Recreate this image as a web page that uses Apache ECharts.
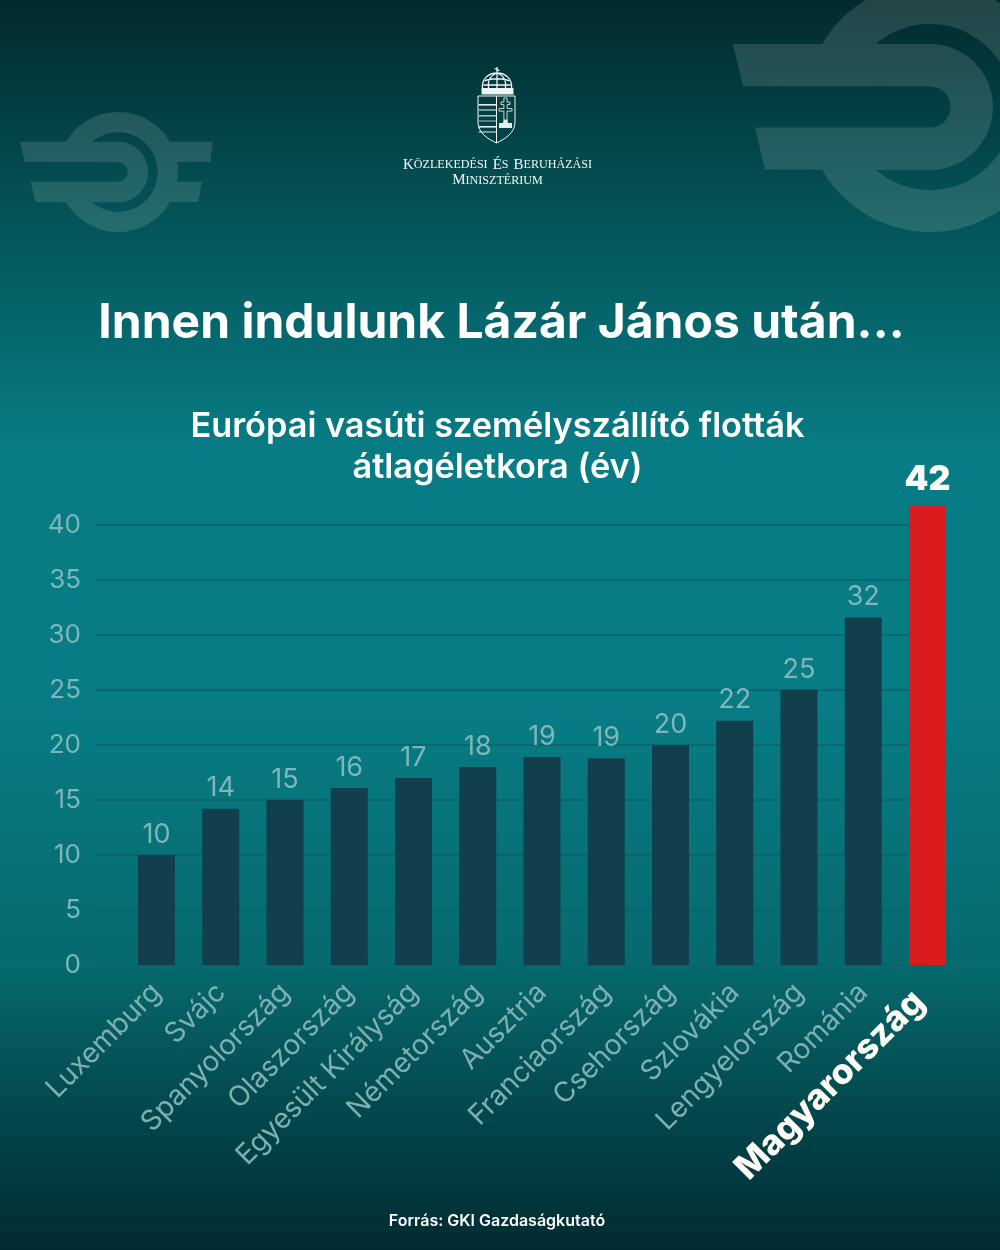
<!DOCTYPE html>
<html><head><meta charset="utf-8">
<style>html,body{margin:0;padding:0;background:#022a2d}#c{width:1000px;height:1250px}</style>
<script src="https://cdn.jsdelivr.net/npm/echarts@6/dist/echarts.min.js"></script>
</head><body><div id="c"></div>
<script>
const categories = ['Luxemburg','Svájc','Spanyolország','Olaszország','Egyesült Királyság','Németország','Ausztria','Franciaország','Csehország','Szlovákia','Lengyelország','Románia','Magyarország'];
const values = [10,14.2,15,16.1,17,18,18.9,18.8,20,22.2,25,31.6,41.8];
const highlight = 'Magyarország';
const mainTitle = 'Innen indulunk Lázár János után...';
const subTitle = 'Európai vasúti személyszállító flották\nátlagéletkora (év)';
const source = 'Forrás: GKI Gazdaságkutató';

const FONT = 'Inter, "Noto Sans", sans-serif';
const MUTED = '#7db7ba';
const MUTEDX = '#7fb0b1';

// Decorative railway emblem (drawn around 0,0, big-logo units)
echarts.graphic.registerShape('railLogo', echarts.graphic.extendShape({
  shape:{wing:0},
  buildPath(ctx,s){
    const R=125,r=83,a=63,b=20.5,yT=-63,yB=62.5,y1=-21,y2=20.5,w=s.wing||0;
    const xo=Math.sqrt(R*R-y1*y1), xi=Math.sqrt(r*r-y1*y1);
    // open ring
    ctx.moveTo(-xo,y1);
    ctx.arc(0,0,R,Math.PI+Math.asin(-y1/R),Math.PI-Math.asin(y2/R),false);
    ctx.lineTo(-xi,y2);
    ctx.arc(0,0,r,Math.PI-Math.asin(y2/r),Math.PI+Math.asin(-y1/r),true);
    ctx.closePath();
    // D with left wings
    ctx.moveTo(-197+w,yT);
    ctx.lineTo(0,yT);
    ctx.arc(0,0,a,-Math.PI/2,Math.PI/2,false);
    ctx.lineTo(-165+w,yB);
    ctx.lineTo(-175+w,y2);
    ctx.lineTo(0,y2);
    ctx.arc(0,0,b,Math.PI/2,-Math.PI/2,true);
    ctx.lineTo(-187+w,y1);
    ctx.closePath();
    // right wings
    ctx.moveTo(110,yT); ctx.lineTo(198,yT); ctx.lineTo(192,y1); ctx.lineTo(110,y1); ctx.closePath();
    ctx.moveTo(110,y2); ctx.lineTo(175,y2); ctx.lineTo(167,yB); ctx.lineTo(100,yB); ctx.closePath();
  }
}));
// Coat of arms: shield outline, crown lattice, double cross
echarts.graphic.registerShape('crestShield', echarts.graphic.extendShape({
  shape:{},
  buildPath(ctx){
    ctx.moveTo(0,0);ctx.lineTo(37,0);ctx.lineTo(37,26);
    ctx.bezierCurveTo(37,37,27,43,18.5,47);
    ctx.bezierCurveTo(10,43,0,37,0,26);ctx.closePath();
    ctx.moveTo(18.5,0);ctx.lineTo(18.5,47);
  }
}));
echarts.graphic.registerShape('crestCrown', echarts.graphic.extendShape({
  shape:{},
  buildPath(ctx){
    // dome and bands
    ctx.moveTo(2,21);ctx.bezierCurveTo(1,12,8,6,16.5,6);ctx.bezierCurveTo(25,6,32,12,31,21);
    ctx.moveTo(16.5,6);ctx.lineTo(16.5,21);
    ctx.moveTo(8,21);ctx.bezierCurveTo(7,13,11,8,16.5,6);
    ctx.moveTo(25,21);ctx.bezierCurveTo(26,13,22,8,16.5,6);
    ctx.moveTo(4,14);ctx.bezierCurveTo(10,11,23,11,29,14);
    ctx.moveTo(3,18);ctx.lineTo(30,18);
    // cross on top
    ctx.moveTo(16.5,6);ctx.lineTo(16.5,0);
    ctx.moveTo(14,1.5);ctx.lineTo(19,3.5);
  }
}));
echarts.graphic.registerShape('crestCross', echarts.graphic.extendShape({
  shape:{},
  buildPath(ctx){
    ctx.moveTo(-1.6,0);ctx.lineTo(1.6,0);ctx.lineTo(1.6,4);ctx.lineTo(4.5,4);ctx.lineTo(4.5,6.6);ctx.lineTo(1.6,6.6);
    ctx.lineTo(1.6,10.5);ctx.lineTo(6.5,10.5);ctx.lineTo(6.5,13.1);ctx.lineTo(1.6,13.1);ctx.lineTo(1.6,22);
    ctx.lineTo(-1.6,22);ctx.lineTo(-1.6,13.1);ctx.lineTo(-6.5,13.1);ctx.lineTo(-6.5,10.5);ctx.lineTo(-1.6,10.5);
    ctx.lineTo(-1.6,6.6);ctx.lineTo(-4.5,6.6);ctx.lineTo(-4.5,4);ctx.lineTo(-1.6,4);ctx.closePath();
  }
}));

const chart = echarts.init(document.getElementById('c'), null, {renderer:'canvas', width:1000, height:1250});

const stripeYs = [8,13.5,19,24.5,30,35.5];
const crestGraphics = [
  {type:'crestShield',x:478,y:96,shape:{},style:{fill:'transparent',stroke:'#f2f7f6',lineWidth:1},silent:true},
  {type:'crestCrown',x:480.5,y:67,shape:{},style:{fill:'transparent',stroke:'#eef4f3',lineWidth:1.3},silent:true},
  {type:'rect',shape:{x:481.5,y:88,width:32,height:6.5},style:{fill:'#eef4f3'},silent:true},
  {type:'crestCross',x:505.5,y:98,shape:{},style:{fill:'transparent',stroke:'#f2f7f6',lineWidth:0.8},silent:true},
  {type:'polygon',shape:{points:[[499,128],[499,123],[503,123],[503.5,120],[507.5,120],[508,123],[512,123],[512,128]]},style:{fill:'#e8f0ef'},silent:true}
].concat(stripeYs.map((s,i)=>({type:'rect',shape:{x:478.5,y:96+s,width:18,height:i%2===0?1.6:1},style:{fill:i===2||i===3?'#9fc4c2':'#e8f0ef'},silent:true})));

const serifRich = {a:{fontFamily:'"Liberation Serif"',fontSize:15,fontWeight:'normal',color:'#f4f8f7'},b:{fontFamily:'"Liberation Serif"',fontSize:12.1,fontWeight:'normal',color:'#f4f8f7'}};

chart.setOption({
  animation:false,
  backgroundColor:new echarts.graphic.LinearGradient(0,0,0,1,[
    {offset:0,color:'#022a2d'},{offset:0.2,color:'#045a5e'},{offset:0.36,color:'#087c85'},
    {offset:0.56,color:'#087c85'},{offset:0.77,color:'#066a6e'},{offset:0.88,color:'#034a4f'},{offset:1,color:'#012b31'}]),
  graphic:{elements:[
    {type:'railLogo',x:930,y:107,z:-10,shape:{wing:0},style:{fill:'rgba(255,255,255,0.13)'},silent:true},
    {type:'railLogo',x:118,y:172,scaleX:0.48,scaleY:0.48,z:-10,shape:{wing:-7},style:{fill:'rgba(255,255,255,0.13)'},silent:true}
  ].concat(crestGraphics)},
  title:[
    {text:'{a|K}{b|ÖZLEKEDÉSI} {a|É}{b|S} {a|B}{b|ERUHÁZÁSI}',left:492.5,top:151,textAlign:'center',textStyle:{fontWeight:'normal',rich:serifRich}},
    {text:'{a|M}{b|INISZTÉRIUM}',left:492.5,top:168,textAlign:'center',textStyle:{fontWeight:'normal',rich:serifRich}},
    {text:mainTitle,left:496.5,top:295,textAlign:'center',textStyle:{fontFamily:FONT,fontSize:48,fontWeight:700,color:'#ffffff'}},
    {text:subTitle,left:492.5,top:401,textAlign:'center',textStyle:{fontFamily:FONT,fontSize:34.3,fontWeight:600,color:'#ffffff',lineHeight:41}},
    {text:source,left:492,top:1208,textAlign:'center',textStyle:{fontFamily:FONT,fontSize:16,fontWeight:600,color:'#ffffff'}}
  ],
  grid:[
    {left:96,right:73,top:525,height:440},
    {left:124.375,right:40.375,top:470,height:495}
  ],
  xAxis:[
    {gridIndex:0,type:'value',min:0,max:1,show:false},
    {gridIndex:1,type:'category',data:categories.map(c=>c===highlight
        ?{value:c,textStyle:{color:'#fffdf5',fontSize:35,fontWeight:800,fontFamily:FONT,padding:[0,12,0,0]}}:c),
      axisLine:{show:false},axisTick:{show:false},
      axisLabel:{interval:0,rotate:45,margin:23,color:MUTEDX,fontSize:28,fontFamily:FONT,fontWeight:400}}
  ],
  yAxis:[
    {gridIndex:0,type:'value',min:0,max:40,interval:5,
      axisLine:{show:false},axisTick:{show:false},
      axisLabel:{color:MUTED,fontSize:26,fontFamily:FONT,margin:15},
      splitLine:{show:true,lineStyle:{color:'#06636d',width:1.5}}},
    {gridIndex:1,type:'value',min:0,max:45,show:false,splitLine:{show:false}}
  ],
  series:[{
    type:'bar',xAxisIndex:1,yAxisIndex:1,barWidth:37,z:3,
    data:values.map((v,i)=>categories[i]===highlight
      ?{value:v,itemStyle:{color:'#db1c1f'},label:{color:'#fffdf5',fontSize:34,fontWeight:900,distance:8}}
      :{value:v,itemStyle:{color:'#113f4b'}}),
    label:{show:true,position:'top',distance:7,color:MUTED,fontSize:27,fontFamily:FONT,
      formatter:p=>String(Math.round(p.value))}
  }]
});
</script></body></html>
